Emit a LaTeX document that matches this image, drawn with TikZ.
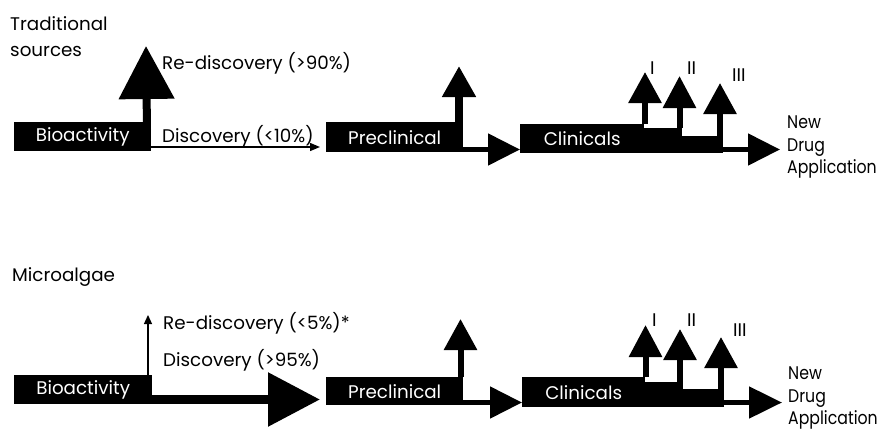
\documentclass[tikz,border=0pt]{standalone}
\usepackage{fontspec}
\setmainfont{Poppins}
\newfontfamily\ndafont{Poppins}[FakeStretch=0.86]
\usetikzlibrary{arrows.meta,calc}
\newcommand{\myfs}{\fontsize{18.3}{23}\selectfont}
\tikzset{
  blk/.style={fill=black, text=white, inner sep=0pt, anchor=north west, font=\myfs},
  blkplain/.style={fill=black, inner sep=0pt, anchor=north west},
  lbl/.style={inner sep=0pt, anchor=west, font=\myfs, align=left},
  ndalbl/.style={lbl, font=\ndafont\fontsize{18.3}{22.5}\selectfont},
  flow/.style args={#1/#2/#3}{line width=#1pt, -{Triangle[length=#2pt,width=#3pt]}},
}
\begin{document}
\begin{tikzpicture}[x=1pt,y=-1pt]
\useasboundingbox (0,0) rectangle (888,431);
% ---------------- top row: traditional sources
\node[lbl, font=\fontsize{18.3}{26}\selectfont] (trad) at (10,36.5) {Traditional\\sources};
\node[blk, minimum width=137pt, minimum height=29pt] (bioA) at (14,122) {Bioactivity};
\node[blk, minimum width=137pt, minimum height=30pt] (preA) at (326,122) {Preclinical};
\node[blkplain, minimum width=124pt, minimum height=29pt] (clinA) at (520,124) {};
\node[text=white, inner sep=0pt, font=\myfs] (clinAt) at (clinA.center) {Clinicals};
\node[blkplain, minimum width=38pt, minimum height=25pt] (clinAb) at (644,128) {};
\node[blkplain, minimum width=41pt, minimum height=17pt] (clinAc) at (682,136) {};
\coordinate (rdA) at (146,46);
\coordinate (dA) at (320,147);
\coordinate (upPA) at (459,66);
\coordinate (upIA) at (645,72);
\coordinate (upIIA) at (679.5,76);
\coordinate (upIIIA) at (720,83);
\coordinate (ndaA) at (780,149.5);
\draw[flow=8/53/54] (147,130) -- (rdA);
\draw[line width=1.3pt, -{Triangle[length=10pt,width=8pt]}] (bioA.east |- dA) -- (dA);
\draw[flow=8/31/32] (upPA |- preA.north) -- (upPA);
\draw[flow=5/32/31] (preA.east |- 0,149.5) -- (clinA.west |- 0,149.5);
\draw[flow=6/31/32] (upIA |- clinA.north) -- (upIA);
\draw[flow=6/32/32] (upIIA |- clinAb.north) -- (upIIA);
\draw[flow=6/31/32] (upIIIA |- clinAc.north) -- (upIIIA);
\draw[flow=5/32/31] (clinAc.east |- ndaA) -- (ndaA);
\node[lbl] (rdAt) at (162,63) {Re-discovery (>90\%)};
\node[lbl] (dAt) at (162,136) {Discovery (<10\%)};
\node[lbl] (IA) at (650,68) {I};
\node[lbl] (IIA) at (687,68) {II};
\node[lbl] (IIIA) at (732,75) {III};
\node[ndalbl] (ndaAt) at (787,147) {New\\Drug\\Application};
% ---------------- bottom row: microalgae
\node[lbl] (micro) at (12,277) {Microalgae};
\node[blk, minimum width=138pt, minimum height=29pt] (bioB) at (14,375) {Bioactivity};
\node[blk, minimum width=137pt, minimum height=28pt] (preB) at (326,377) {Preclinical};
\node[blkplain, minimum width=123pt, minimum height=30pt] (clinB) at (522,377) {};
\node[text=white, inner sep=0pt, font=\myfs] (clinBt) at (clinB.center) {Clinicals};
\node[blkplain, minimum width=38pt, minimum height=25pt] (clinBb) at (645,382) {};
\node[blkplain, minimum width=41pt, minimum height=18pt] (clinBc) at (683,389) {};
\coordinate (rdB) at (148,315);
\coordinate (dB) at (320,399.5);
\coordinate (upPB) at (460.5,319);
\coordinate (upIB) at (645.5,325);
\coordinate (upIIB) at (680,329);
\coordinate (upIIIB) at (721,337);
\coordinate (ndaB) at (782,402.5);
\draw[line width=1.3pt, -{Triangle[length=9pt,width=8pt]}] (rdB |- bioB.north) -- (rdB);
\draw[flow=9/52/52] (bioB.east |- dB) -- (dB);
\draw[flow=6/31/32] (upPB |- preB.north) -- (upPB);
\draw[flow=5/32/31] (preB.east |- 0,402.5) -- (clinB.west |- 0,402.5);
\draw[flow=6/32/32] (upIB |- clinB.north) -- (upIB);
\draw[flow=6/31/32] (upIIB |- clinBb.north) -- (upIIB);
\draw[flow=6/31/32] (upIIIB |- clinBc.north) -- (upIIIB);
\draw[flow=5/33/31] (clinBc.east |- ndaB) -- (ndaB);
\node[lbl] (rdBt) at (163,323) {Re-discovery (<5\%)*};
\node[lbl] (dBt) at (163,360) {Discovery (>95\%)};
\node[lbl] (IB) at (652,320) {I};
\node[lbl] (IIB) at (687,320) {II};
\node[lbl] (IIIB) at (733,330) {III};
\node[ndalbl] (ndaBt) at (788,398) {New\\Drug\\Application};
\end{tikzpicture}
\end{document}
